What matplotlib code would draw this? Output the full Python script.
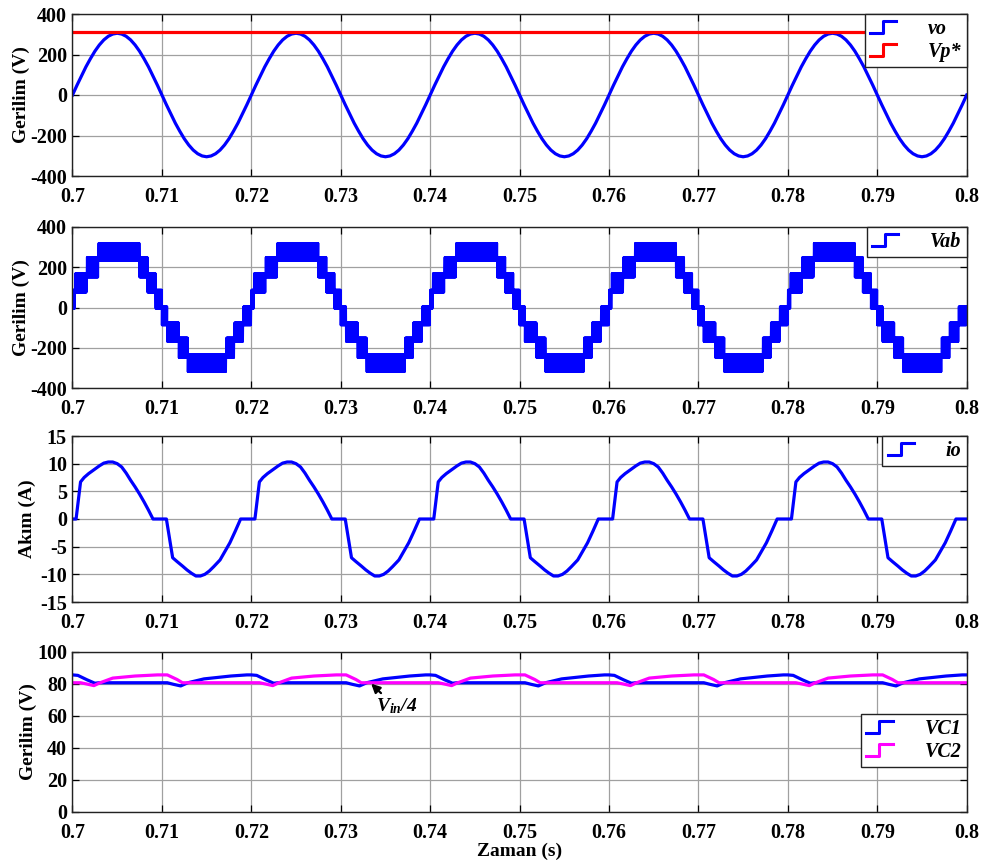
import numpy as np
import matplotlib
matplotlib.use('Agg')
import matplotlib.pyplot as plt
from matplotlib.lines import Line2D
from matplotlib.legend_handler import HandlerLine2D

plt.rcParams['font.family'] = ['Liberation Serif', 'DejaVu Serif']
plt.rcParams['font.weight'] = 'bold'
plt.rcParams['axes.unicode_minus'] = False
plt.rcParams['mathtext.fontset'] = 'custom'
plt.rcParams['mathtext.it'] = 'Liberation Serif:italic:bold'
plt.rcParams['mathtext.rm'] = 'Liberation Serif:italic:bold'

# ---------------- data ----------------
t_start = 0.70
period_ms = 20.0
n_periods = 5

xticks = [0.70, 0.71, 0.72, 0.73, 0.74, 0.75, 0.76, 0.77, 0.78, 0.79, 0.80]
xtick_labels = ['0.7', '0.71', '0.72', '0.73', '0.74', '0.75', '0.76', '0.77', '0.78', '0.79', '0.8']

# output voltage vo, one period sampled every 0.5 ms (V)
vo_time_ms = [0.0, 0.5, 1.0, 1.5, 2.0, 2.5, 3.0, 3.5, 4.0, 4.5, 5.0, 5.5, 6.0, 6.5, 7.0, 7.5, 8.0, 8.5, 9.0, 9.5,
              10.0, 10.5, 11.0, 11.5, 12.0, 12.5, 13.0, 13.5, 14.0, 14.5, 15.0, 15.5, 16.0, 16.5, 17.0, 17.5,
              18.0, 18.5, 19.0, 19.5, 20.0]
vo_values = [0, 48, 94, 139, 179, 216, 247, 272, 290, 301, 305, 301, 290, 272, 247, 216, 179, 139, 94, 48,
             0, -48, -94, -139, -179, -216, -247, -272, -290, -301, -305, -301, -290, -272, -247, -216, -179,
             -139, -94, -48, 0]
vp_ref = 311

# multilevel voltage Vab: switching bands in one period (ms, lower level, upper level)
vab_seg_start_ms = [0.0, 0.3, 1.6, 2.9, 7.5, 8.4, 9.3, 10.0, 10.6, 11.9, 12.9, 17.2, 18.1, 19.1]
vab_seg_end_ms = [0.3, 1.6, 2.9, 7.5, 8.4, 9.3, 10.0, 10.6, 11.9, 12.9, 17.2, 18.1, 19.1, 20.0]
vab_low = [-5, 75, 150, 232, 150, 75, -5, -88, -170, -250, -320, -250, -170, -88]
vab_high = [88, 170, 250, 320, 250, 170, 88, 5, -75, -150, -232, -150, -75, 5]

# load current io, one period (A)
io_time_ms = [0.0, 0.4, 0.9, 1.3, 1.8, 2.4, 3.0, 3.5, 4.0, 4.5, 5.0, 5.5, 6.0, 6.5, 7.0, 7.5, 8.0, 8.5, 9.0,
              10.5, 10.8, 11.2, 11.7, 12.3, 12.8, 13.3, 13.8, 14.3, 14.8, 15.3, 15.8, 16.5, 17.0, 17.6, 18.2,
              18.8, 20.0]
io_values = [0.0, 0.0, 6.7, 7.5, 8.2, 8.9, 9.6, 10.1, 10.3, 10.3, 10.0, 9.4, 8.3, 7.0, 5.8, 4.5, 3.1, 1.6, 0.0,
             0.0, -3.0, -7.0, -7.7, -8.5, -9.2, -9.8, -10.3, -10.3, -10.0, -9.4, -8.6, -7.4, -6.0, -4.3, -2.2,
             0.0, 0.0]

# capacitor voltages, one period (V)
vc1_time_ms = [0.0, 0.6, 1.6, 2.5, 3.0, 10.6, 11.3, 12.1, 12.9, 14.7, 17.7, 19.5, 20.0]
vc1_values = [85.5, 85.2, 82.5, 80.3, 80.6, 80.6, 79.6, 78.6, 80.6, 83.0, 84.8, 85.5, 85.5]
vc2_time_ms = [0.0, 0.9, 1.6, 2.4, 3.0, 4.5, 7.0, 9.5, 10.6, 11.7, 12.3, 20.0]
vc2_values = [80.6, 80.6, 79.8, 78.8, 80.4, 83.5, 84.8, 85.5, 85.5, 82.6, 80.6, 80.6]


def tile(t_ms, vals):
    T, V = [], []
    for k in range(n_periods):
        T.extend(t_start + (np.asarray(t_ms) + k * period_ms) / 1000.0)
        V.extend(vals)
    return np.array(T), np.array(V)


def vab_wave():
    T, V = [], []
    dt = 0.025
    for k in range(n_periods):
        for s, e, lo, hi in zip(vab_seg_start_ms, vab_seg_end_ms, vab_low, vab_high):
            n = max(int(round((e - s) / dt)), 2)
            tt = np.linspace(s, e, n, endpoint=False) + k * period_ms
            vv = np.where(np.arange(n) % 2 == 0, lo, hi)
            T.extend(t_start + tt / 1000.0)
            V.extend(vv)
    return np.array(T), np.array(V)


class StepHandler(HandlerLine2D):
    def create_artists(self, legend, orig_handle, xdescent, ydescent, width, height, fontsize, trans):
        x0, y0 = -xdescent, -ydescent
        xs = [x0, x0 + width * 0.5, x0 + width * 0.5, x0 + width]
        ys = [y0 + 0.05 * height, y0 + 0.05 * height, y0 + 0.95 * height, y0 + 0.95 * height]
        ln = Line2D(xs, ys, color=orig_handle.get_color(), lw=2.2, transform=trans)
        return [ln]


fig = plt.figure(figsize=(9.87, 8.61), dpi=100)
left = 72.5 / 987
width = (966.7 - 72.5) / 987
H = 861.0
rects = [(14, 176), (227, 388), (436, 602), (651.7, 811.7)]
axes = [fig.add_axes([left, 1 - b / H, width, (b - t) / H]) for t, b in rects]

tick_fs = 14.5
lab_fs = 14
leg_fs = 14.5


def style(ax, yticks, ylim):
    ax.set_xlim(0.70, 0.80)
    ax.set_ylim(*ylim)
    ax.set_xticks(xticks)
    ax.set_xticklabels(xtick_labels)
    ax.set_yticks(yticks)
    ax.grid(True, color='#a0a0a0', lw=0.9)
    ax.set_axisbelow(True)
    ax.tick_params(direction='in', top=True, right=True, length=5, width=0.9, labelsize=tick_fs, pad=4)
    ax.tick_params(axis='x', pad=8)
    for lb in ax.get_xticklabels() + ax.get_yticklabels():
        lb.set_fontweight('bold')
    for sp in ax.spines.values():
        sp.set_color('#222222')
        sp.set_linewidth(1.0)


def legend(ax, anchor_y=1.0):
    lg = ax.legend(loc='upper right', bbox_to_anchor=(1.0, anchor_y), borderaxespad=0,
                   handler_map={Line2D: StepHandler()}, fancybox=False, framealpha=1,
                   edgecolor='#222222', handlelength=1.3, handletextpad=1.6, borderpad=0.25,
                   labelspacing=0.15, prop={'family': 'Liberation Serif', 'weight': 'bold',
                                            'style': 'italic', 'size': leg_fs})
    lg.get_frame().set_linewidth(1.0)
    return lg


# panel 1
ax = axes[0]
t, v = tile(vo_time_ms, vo_values)
ax.plot(t, v, color='#0000ff', lw=2.3, label='vo')
ax.plot([0.70, 0.80], [vp_ref, vp_ref], color='#ff0000', lw=2.3, label='Vp*')
style(ax, [-400, -200, 0, 200, 400], (-400, 400))
ax.set_ylabel('Gerilim (V)', fontsize=lab_fs, fontweight='bold')
ax.yaxis.set_label_coords(-0.048, 0.5)
legend(ax)

# panel 2
ax = axes[1]
t, v = vab_wave()
ax.plot(t, v, color='#0000ff', lw=1.6, label='Vab')
style(ax, [-400, -200, 0, 200, 400], (-400, 400))
ax.set_ylabel('Gerilim (V)', fontsize=lab_fs, fontweight='bold')
ax.yaxis.set_label_coords(-0.048, 0.5)
legend(ax)

# panel 3
ax = axes[2]
t, v = tile(io_time_ms, io_values)
ax.plot(t, v, color='#0000ff', lw=2.3, label='io')
style(ax, [-15, -10, -5, 0, 5, 10, 15], (-15, 15))
ax.set_ylabel('Akım (A)', fontsize=lab_fs, fontweight='bold')
ax.yaxis.set_label_coords(-0.041, 0.5)
legend(ax)

# panel 4
ax = axes[3]
t, v = tile(vc1_time_ms, vc1_values)
ax.plot(t, v, color='#0000ff', lw=2.3, label='VC1')
t, v = tile(vc2_time_ms, vc2_values)
ax.plot(t, v, color='#ff00ff', lw=2.3, label='VC2')
style(ax, [0, 20, 40, 60, 80, 100], (0, 100))
ax.set_ylabel('Gerilim (V)', fontsize=lab_fs, fontweight='bold')
ax.yaxis.set_label_coords(-0.040, 0.5)
ax.set_xlabel('Zaman (s)', fontsize=lab_fs, fontweight='bold', labelpad=0)
legend(ax, anchor_y=0.61)
ax.annotate(r'$V_{in}/4$', xy=(0.7334, 80.0), xytext=(0.7339, 63), fontsize=14,
            ha='left', va='baseline',
            arrowprops=dict(arrowstyle='-|>', color='black', lw=1.6, shrinkA=0, shrinkB=0,
                            relpos=(0.2, 1.0), mutation_scale=13))

fig.savefig('out.png', dpi=100)
